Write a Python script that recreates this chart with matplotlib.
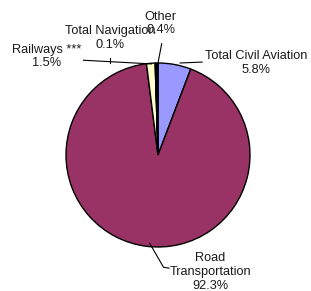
import matplotlib
matplotlib.use("Agg")
import matplotlib.pyplot as plt

# Data
labels = ["Total Civil Aviation", "Road\nTransportation", "Railways ***", "Total Navigation", "Other"]
values = [5.8, 92.3, 1.5, 0.1, 0.4]
colors = ["#9999FF", "#993366", "#FFFFCC", "#CCFFFF", "#000000"]

plt.rcParams["font.family"] = ["Liberation Sans", "DejaVu Sans"]

fig = plt.figure(figsize=(3.11, 2.91), dpi=100)
ax = fig.add_axes([66 / 311, 44 / 291, 184 / 311, 184 / 291])

ax.pie(values, colors=colors, startangle=90, counterclock=False,
       wedgeprops=dict(edgecolor="black", linewidth=1))
ax.set_xlim(-1, 1)
ax.set_ylim(-1, 1)
ax.set_aspect("equal")
ax.axis("off")

# label positions (data coords), leader lines
txt = [f"{l}\n{v}%" for l, v in zip(labels, values)]
pos = [(1.07, 1.0), (0.57, -1.27), (-1.21, 1.07), (-0.52, 1.27), (0.03, 1.43)]
for t, p in zip(txt, pos):
    ax.text(p[0], p[1], t, ha="center", va="center", fontsize=9.2,
            color="#1a1a1a", clip_on=False, linespacing=1.2)

kw = dict(color="black", lw=0.8, clip_on=False)
# civil aviation
ax.plot([0.24, 0.48], [1.0, 1.01], **kw)
# road
ax.plot([-0.09, 0.06, 0.12], [-0.96, -1.22, -1.23], **kw)
# railways / navigation
ax.plot([-0.81, -0.07], [1.03, 0.99], **kw)
ax.plot([-0.52, -0.52], [1.05, 1.0], **kw)
# other
ax.plot([0.0, 0.04], [1.0, 1.21], **kw)

fig.savefig("out.png", dpi=100)
